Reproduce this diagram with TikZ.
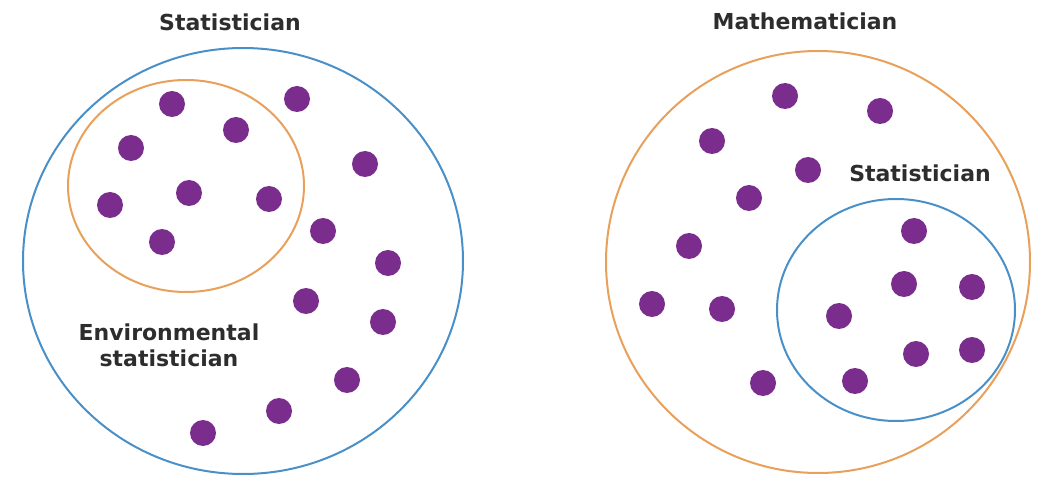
\documentclass[tikz,border=0pt]{standalone}
\usepackage{fontspec}
\setmainfont{DejaVu Sans}
\usepackage{xcolor}
\usepackage{tikz}

\definecolor{ringblue}{RGB}{74,144,200}
\definecolor{ringorange}{RGB}{232,160,90}
\definecolor{dotpurple}{RGB}{123,45,142}
\definecolor{labelgray}{RGB}{45,45,45}

\begin{document}
\begin{tikzpicture}[x=1pt,y=-1pt,
  blue ring/.style={draw=ringblue,line width=2pt},
  orange ring/.style={draw=ringorange,line width=2pt},
  person/.style={circle,fill=dotpurple,minimum size=26pt,inner sep=0pt},
  title/.style={font=\bfseries\fontsize{22}{26}\selectfont,text=labelgray,align=center}]
  \useasboundingbox (0,0) rectangle (1045,478);

  % left: statisticians, environmental ones inside
  \draw[blue ring] (243,261) ellipse [x radius=220, y radius=213];
  \draw[orange ring] (186,186) ellipse [x radius=118, y radius=106];
  \node[title] (stat) at (230,22) {Statistician};
  \node[title] (env) at (169,345) {Environmental\\statistician};
  \foreach \x/\y [count=\i] in {172/104,297/99,236/130,131/148,365/164,189/193,
      110/205,269/199,162/242,323/231,388/263,306/301,383/322,347/380,279/411,203/433}
    \node[person] (l\i) at (\x,\y) {};

  % right: mathematicians, statisticians inside
  \draw[orange ring] (818,262) ellipse [x radius=212, y radius=211];
  \draw[blue ring] (896,310) ellipse [x radius=119, y radius=111];
  \node[title] (math) at (805,21) {Mathematician};
  \node[title] (stat2) at (920,173) {Statistician};
  \foreach \x/\y [count=\i] in {785/96,880/111,712/141,808/170,749/198,689/246,
      914/231,652/304,722/309,904/284,972/287,839/316,916/354,972/350,855/381,763/383}
    \node[person] (r\i) at (\x,\y) {};
\end{tikzpicture}
\end{document}
